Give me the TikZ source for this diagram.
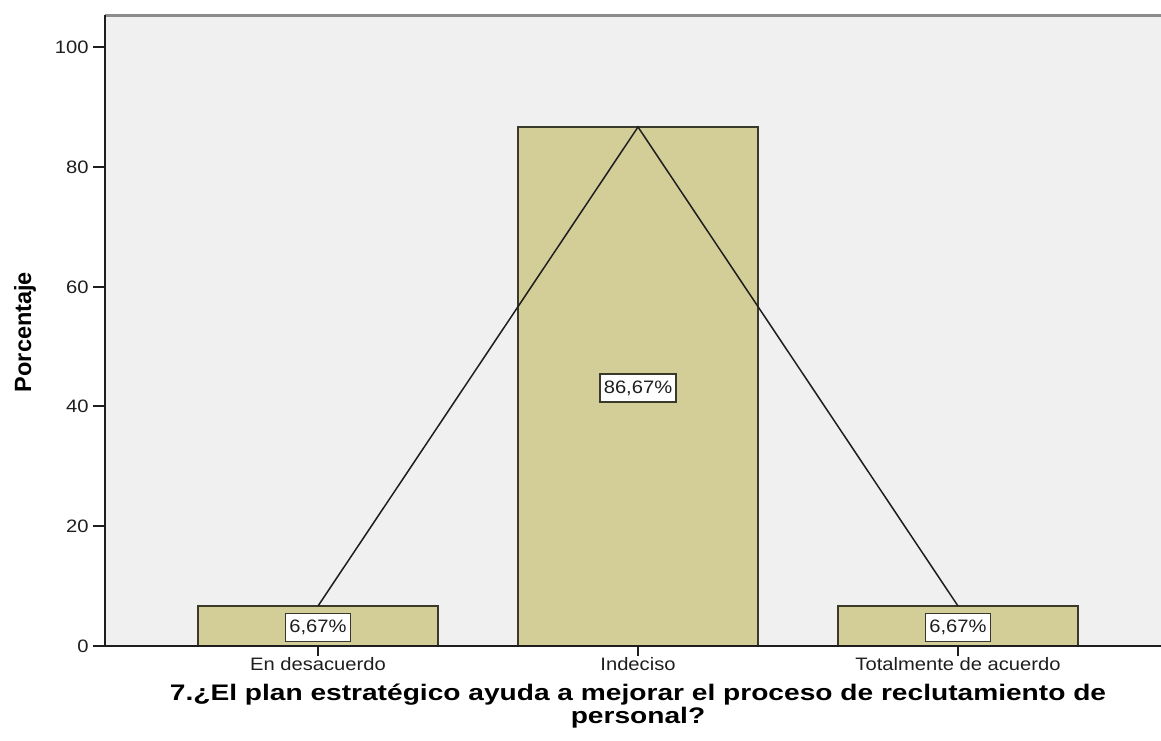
\documentclass[tikz,border=0pt]{standalone}
\usepackage{fontspec}
\setmainfont{Liberation Sans}[FakeStretch=1.12]
\newfontfamily\axisfont{Liberation Sans}
\newfontfamily\titlefont{Liberation Sans}[FakeStretch=1.25]

\definecolor{plotbg}{RGB}{240,240,240}
\definecolor{barfill}{RGB}{211,206,151}
\definecolor{baredge}{RGB}{58,58,44}
\definecolor{inkgray}{RGB}{30,30,30}
\definecolor{framegray}{RGB}{140,140,140}

\tikzset{every picture/.style={line width=0.75pt},
  bar/.style={draw=baredge, line width=2pt, fill=barfill},
  axisline/.style={draw=inkgray, line width=1.8pt},
  tickmark/.style={draw=inkgray, line width=1.5pt},
  pctlabel/.style={draw=baredge, line width=1.5pt, fill=white, inner xsep=4pt, minimum height=28pt, text=inkgray, font=\fontsize{18}{20}\selectfont},
  ticklabel/.style={anchor=east, inner sep=0pt, text=inkgray, font=\fontsize{18}{20}\selectfont},
  catlabel/.style={anchor=base, inner sep=0pt, text=inkgray, font=\fontsize{18}{20}\selectfont},
  titlelabel/.style={anchor=base, inner sep=0pt, text=black, font=\titlefont\bfseries\fontsize{22.5}{25}\selectfont}}

\begin{document}
\begin{tikzpicture}[x=1pt,y=1pt,yscale=-1,xscale=1]
\useasboundingbox (0,0) rectangle (1161,740);

%Shape: Rectangle [plot area]
\fill[plotbg] (105,15) rectangle (1161,646);

%Shape: Rectangle [En desacuerdo]
\draw[bar] (198,646) rectangle (438,606);
%Shape: Rectangle [Indeciso]
\draw[bar] (518,646) rectangle (758,127);
%Shape: Rectangle [Totalmente de acuerdo]
\draw[bar] (838,646) rectangle (1078,606);

\coordinate (topA) at (318,606);
\coordinate (topB) at (638,127);
\coordinate (topC) at (958,606);
%Straight Lines [polygon]
\draw[draw=inkgray, line width=1.5pt] (topA) -- (topB) -- (topC);

%Straight Lines [frame]
\draw[draw=framegray, line width=3pt] (105,15) -- (1161,15);
\draw[axisline] (105,15) -- (105,646);
\draw[axisline] (105,646) -- (1161,646);

%Straight Lines [y ticks]
\draw[tickmark] (93,47) -- (105,47);
\draw[tickmark] (93,167) -- (105,167);
\draw[tickmark] (93,287) -- (105,287);
\draw[tickmark] (93,406) -- (105,406);
\draw[tickmark] (93,526) -- (105,526);
\draw[tickmark] (93,646) -- (105,646);
%Straight Lines [x ticks]
\draw[tickmark] (318,646) -- (318,656);
\draw[tickmark] (638,646) -- (638,656);
\draw[tickmark] (958,646) -- (958,656);

% Text Node
\node[ticklabel] (y100) at (89,47) {100};
% Text Node
\node[ticklabel] (y80) at (89,167) {80};
% Text Node
\node[ticklabel] (y60) at (89,287) {60};
% Text Node
\node[ticklabel] (y40) at (89,406) {40};
% Text Node
\node[ticklabel] (y20) at (89,526) {20};
% Text Node
\node[ticklabel] (y0) at (89,646) {0};

% Text Node
\node[pctlabel] (pctA) at (318,627.5) {6,67\%};
% Text Node
\node[pctlabel] (pctB) at (638,388) {86,67\%};
% Text Node
\node[pctlabel] (pctC) at (958,627.5) {6,67\%};

% Text Node
\node[catlabel] (catA) at (318,670) {En desacuerdo};
% Text Node
\node[catlabel] (catB) at (638,670) {Indeciso};
% Text Node
\node[catlabel] (catC) at (958,670) {Totalmente de acuerdo};

% Text Node
\node[titlelabel] (xtitleA) at (638,700) {7.¿El plan estratégico ayuda a mejorar el proceso de reclutamiento de};
% Text Node
\node[titlelabel] (xtitleB) at (638,723) {personal?};
% Text Node
\node[rotate=90, inner sep=0pt, text=black, font=\axisfont\bfseries\fontsize{23.5}{26}\selectfont] (ytitle) at (25,332) {Porcentaje};

\end{tikzpicture}
\end{document}
